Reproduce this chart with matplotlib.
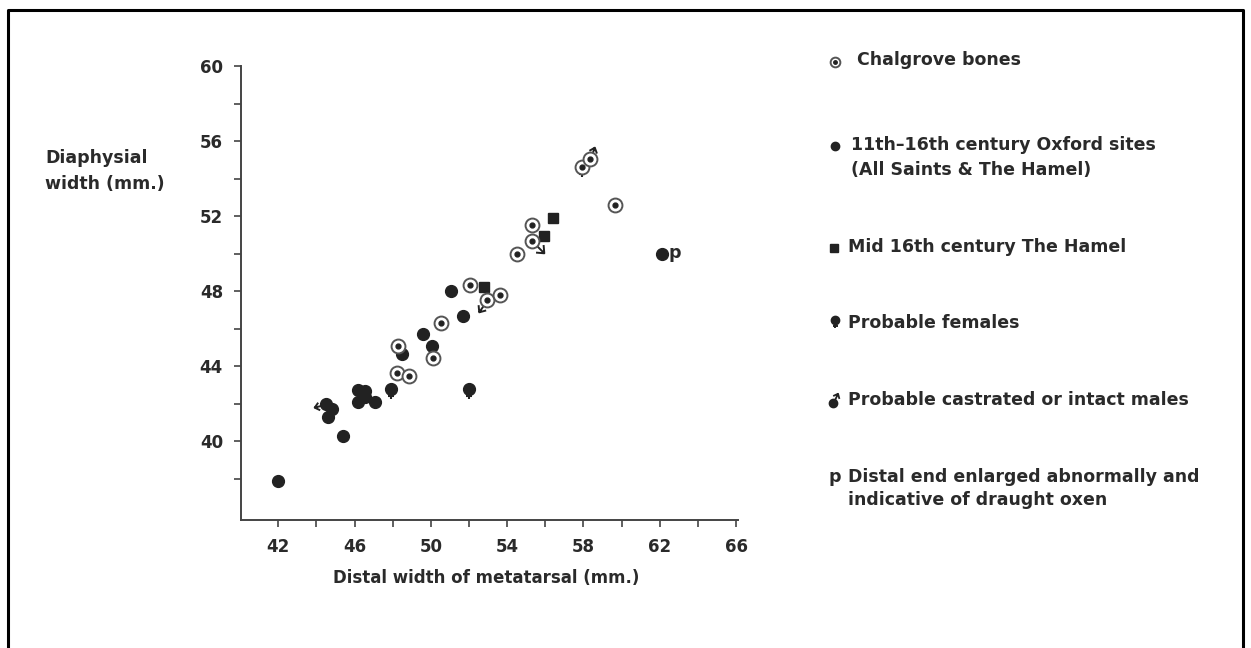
import numpy as np
import matplotlib
matplotlib.use("Agg")
import matplotlib.pyplot as plt
from matplotlib.path import Path

# values (distal width, diaphysial width in mm)
oxford_x = [42.0, 45.4, 44.5, 44.8, 44.6, 46.2, 46.55, 46.2, 46.55, 47.05,
            47.9, 48.5, 49.6, 50.05, 51.05, 51.7, 52.0, 62.1]
oxford_y = [37.9, 40.3, 42.0, 41.7, 41.3, 42.75, 42.65, 42.1, 42.35, 42.1,
            42.8, 44.65, 45.7, 45.05, 48.0, 46.7, 42.8, 50.0]

hamel_x = [52.8, 55.95, 56.4]
hamel_y = [48.2, 50.95, 51.9]

chalgrove_x = [48.3, 48.25, 48.85, 50.1, 50.55, 52.05, 52.95, 53.6, 54.5,
               55.3, 55.3, 57.9, 58.35, 59.65]
chalgrove_y = [45.1, 43.65, 43.5, 44.45, 46.3, 48.3, 47.55, 47.8, 50.0,
               51.5, 50.65, 54.6, 55.05, 52.6]

female_x = [47.9, 52.0, 57.9]
female_y = [42.8, 42.8, 54.6]

male_x = [44.5, 52.95, 55.3, 58.35]
male_y = [42.0, 47.55, 50.65, 55.05]

draught_x = [62.1]
draught_y = [50.0]

x_ticks = [42, 46, 50, 54, 58, 62, 66]
y_ticks = [40, 44, 48, 52, 56, 60]

# direction the male arrows point in, per symbol (style only)
male_arrow_deg = [195, 235, 315, 70]

INK = "#222222"
GREY = "#555555"
FONT = dict(family="DejaVu Sans", fontweight="bold", color="#2a2a2a")
LEG = 12.5


def cross_marker():
    verts = [(0, 0), (0, -1.5), (-0.45, -1.05), (0.45, -1.05)]
    codes = [Path.MOVETO, Path.LINETO, Path.MOVETO, Path.LINETO]
    return Path(verts, codes)


def arrow_marker(deg):
    v = np.array([(0, 0), (1, 0), (0.62, 0.32), (1, 0), (0.62, -0.32)])
    a = np.deg2rad(deg)
    rot = np.array([[np.cos(a), -np.sin(a)], [np.sin(a), np.cos(a)]])
    v = v @ rot.T
    codes = [Path.MOVETO, Path.LINETO, Path.MOVETO, Path.LINETO, Path.LINETO]
    return Path(v, codes)


def draw_chalgrove(a, x, y, ring=10, dot=3.5):
    a.plot(x, y, ls="none", marker="o", ms=ring, mfc="white", mec=GREY,
           mew=1.4, zorder=4, clip_on=False)
    a.plot(x, y, ls="none", marker="o", ms=dot, mfc=INK, mec=INK,
           zorder=5, clip_on=False)


fig = plt.figure(figsize=(12.51, 6.48), dpi=100)
ax = fig.add_axes([241 / 1251, 1 - 520 / 648, 497 / 1251, 454 / 648])

ax.plot(oxford_x, oxford_y, ls="none", marker="o", ms=8.5, color=INK, zorder=3)
ax.plot(hamel_x, hamel_y, ls="none", marker="s", ms=7, color=INK, zorder=3)
draw_chalgrove(ax, chalgrove_x, chalgrove_y)
ax.plot(female_x, female_y, ls="none", marker=cross_marker(), ms=14,
        mfc="none", mec=INK, mew=1.5, zorder=2)
for mx, my, deg in zip(male_x, male_y, male_arrow_deg):
    ax.plot(mx, my, ls="none", marker=arrow_marker(deg), ms=17,
            mfc="none", mec=INK, mew=1.4, zorder=2)
for dx, dy in zip(draught_x, draught_y):
    ax.annotate("p", (dx, dy), xytext=(5, -3), textcoords="offset points",
                va="baseline", ha="left", fontsize=12.5, **FONT)

ax.set_xlim(40.05, 66.1)
ax.set_ylim(35.8, 60)
ax.set_xticks(x_ticks)
ax.set_yticks(y_ticks)
ax.set_xticks([t + 2 for t in x_ticks[:-1]], minor=True)
ax.set_yticks([38] + [t + 2 for t in y_ticks[:-1]], minor=True)
ax.tick_params(which="both", direction="out", length=5, width=1.2,
               color="#444444")
ax.tick_params(labelsize=12, pad=8, labelcolor="#2a2a2a")
for lab in ax.get_xticklabels() + ax.get_yticklabels():
    lab.set_fontweight("bold")
for side in ["top", "right"]:
    ax.spines[side].set_visible(False)
for side in ["left", "bottom"]:
    ax.spines[side].set_linewidth(1.4)
    ax.spines[side].set_color("#444444")

# overlay in pixel coordinates for labels, legend and the frame
lax = fig.add_axes([0, 0, 1, 1], zorder=-1)
lax.set_xlim(0, 1251)
lax.set_ylim(648, 0)
lax.axis("off")

lax.plot([8, 8, 1243, 1243], [648, 10, 10, 648], color="black", lw=2.2)

lax.text(45, 158, "Diaphysial", va="center", ha="left", fontsize=12.5, **FONT)
lax.text(45, 184, "width (mm.)", va="center", ha="left", fontsize=12.5, **FONT)
lax.text(486, 578, "Distal width of metatarsal (mm.)", va="center",
         ha="center", fontsize=12, **FONT)

# legend
draw_chalgrove(lax, [835], [62], ring=7, dot=2.5)
lax.text(857, 60, "Chalgrove bones", va="center", fontsize=LEG, **FONT)

lax.plot([835], [146], ls="none", marker="o", ms=6, color=INK)
lax.text(851, 145, "11th\u201316th century Oxford sites", va="center",
         fontsize=LEG, **FONT)
lax.text(851, 170, "(All Saints & The Hamel)", va="center", fontsize=LEG,
         **FONT)

lax.plot([834], [248], ls="none", marker="s", ms=5.5, color=INK)
lax.text(848, 247, "Mid 16th century The Hamel", va="center", fontsize=LEG,
         **FONT)

lax.plot([835], [320], ls="none", marker="o", ms=6, color=INK)
lax.plot([835], [320], ls="none", marker=cross_marker(), ms=12, mfc="none",
         mec=INK, mew=1.4)
lax.text(848, 323, "Probable females", va="center", fontsize=LEG, **FONT)

lax.plot([833], [403], ls="none", marker="o", ms=6, color=INK)
lax.plot([833], [403], ls="none", marker=arrow_marker(65), ms=14, mfc="none",
         mec=INK, mew=1.3)
lax.text(848, 400, "Probable castrated or intact males", va="center",
         fontsize=LEG, **FONT)

lax.text(828, 477, "p", va="center", fontsize=LEG, **FONT)
lax.text(848, 477, "Distal end enlarged abnormally and", va="center",
         fontsize=LEG, **FONT)
lax.text(848, 500, "indicative of draught oxen", va="center", fontsize=LEG,
         **FONT)

fig.savefig("out.png", dpi=100)
